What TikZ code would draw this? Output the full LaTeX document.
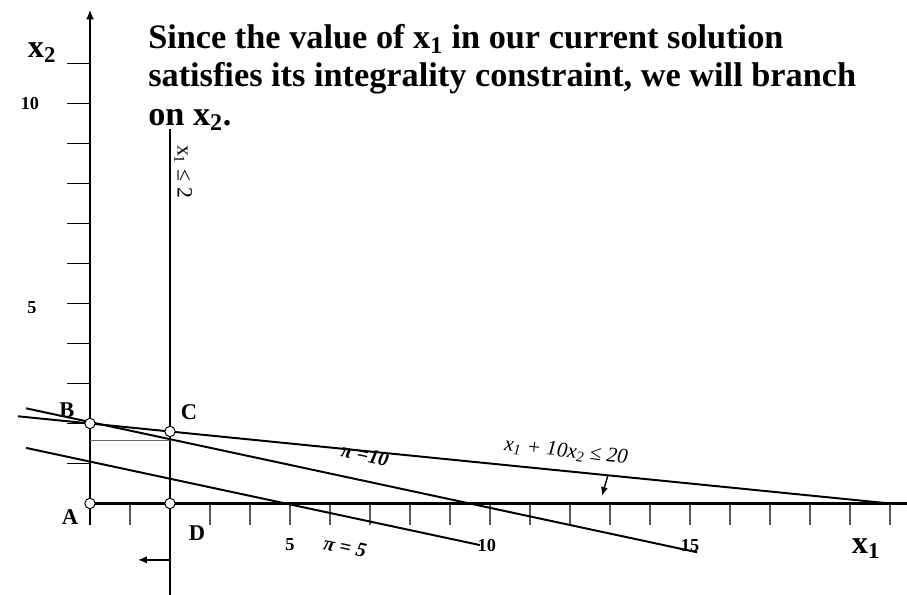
\documentclass[tikz,border=0pt]{standalone}
\usepackage{fontspec}
\setmainfont{Liberation Serif}
\usepackage{tikz}
\usetikzlibrary{arrows.meta,positioning}

\begin{document}
\begin{tikzpicture}[x=1cm, y=1cm,
  axis/.style={line width=1.5pt},
  cline/.style={line width=1.4pt},
  tickx/.style={line width=1pt, black!65},
  ticky/.style={line width=1pt},
  pt/.style={circle, draw, fill=white, line width=0.7pt, inner sep=0pt, minimum size=2.6mm},
  lab/.style={font=\fontsize{16}{18}\selectfont\bfseries, inner sep=0pt},
  num/.style={font=\fontsize{13}{15}\selectfont\bfseries, inner sep=0pt},
  arr/.style={-{Latex[length=2.2mm, width=1.8mm]}, line width=1pt}
]
\useasboundingbox (-2.25,-2.2875) rectangle (20.425,12.5875);
% axes and ticks
\foreach \k in {0,...,20} \draw[tickx] (\k,0) -- (\k,-0.55);
\foreach \k in {1,...,11} \draw[ticky] (-0.575,\k) -- (0,\k);
\draw[axis] (0,0) -- (20.425,0);
\draw[axis, -{Latex[length=2.5mm, width=2mm]}] (0,-0.55) -- (0,12.35);
\node[font=\fontsize{23}{25}\selectfont\bfseries] (xtwo) at (-1.2,11.28) {x\textsubscript{2}};
\node[font=\fontsize{23}{25}\selectfont\bfseries] (xone) at (19.4,-1.12) {x\textsubscript{1}};
\node[num] (ten) at (-1.5,9.99) {10};
\node[num] (five) at (-1.45,4.9) {5};
\node[num] (xfive) at (5,-1.04) {5};
\node[num] (xten) at (9.92,-1.04) {10};
\node[num] (xfifteen) at (15,-1.04) {15};
% title
\node[anchor=north west, align=left, inner sep=0pt,
      font=\fontsize{24.4}{27.2}\selectfont\bfseries] (title) at (1.45,11.98)
  {Since the value of x\textsubscript{1} in our current solution\\
   satisfies its integrality constraint, we will branch\\
   on x\textsubscript{2}.};
% branch x1 <= 2
\coordinate (btop) at (2,9.36);
\coordinate (bbot) at (2,-2.2875);
\draw[cline] (btop) -- (bbot);
\node[rotate=-90, font=\fontsize{15.5}{17}\selectfont, inner sep=0pt] (blab) at (2.33,8.3) {x\textsubscript{1} ≤ 2};
\coordinate (bar) at (2,-1.41);
\draw[arr] (bar) -- ++(-0.8,0);
% constraint x1 + 10x2 <= 20
\coordinate (cl) at (-1.8,2.18);
\coordinate (cr) at (20,0);
\draw[cline] (cl) -- (cr);
\node[rotate=-5.7, font=\fontsize{15}{17}\selectfont\itshape, inner sep=0pt] (clab) at (11.9,1.3) {x\textsubscript{1} + 10x\textsubscript{2} ≤ 20};
\coordinate (cs) at (12.95,0.71);
\draw[arr] (cs) -- (12.8,0.19);
% objective lines
\coordinate (pal) at (-1.6,2.38);
\coordinate (par) at (15.18,-1.22);
\coordinate (pbl) at (-1.6,1.39);
\coordinate (pbr) at (9.75,-1.04);
\draw[cline] (pal) -- (par);
\draw[cline] (pbl) -- (pbr);
\node[rotate=-12, font=\fontsize{14.5}{16}\selectfont\bfseries\itshape, inner sep=0pt] (pilab) at (6.875,1.21) {π =10};
\node[rotate=-12, font=\fontsize{14.5}{16}\selectfont\bfseries\itshape, inner sep=0pt] (pilabb) at (6.375,-1.09) {π = 5};
% guide
\draw[black!60, line width=0.8pt] (0,1.58) -- (2,1.58);
% corner points
\node[pt] (A) at (0,0) {};
\node[pt] (B) at (0,2) {};
\node[pt] (C) at (2,1.8) {};
\node[pt] (D) at (2,0) {};
\node[lab] (Alab) at (-0.5,-0.34) {A};
\node[lab] (Blab) at (-0.575,2.34) {B};
\node[lab] (Clab) at (2.475,2.29) {C};
\node[lab] (Dlab) at (2.675,-0.74) {D};
\end{tikzpicture}
\end{document}
